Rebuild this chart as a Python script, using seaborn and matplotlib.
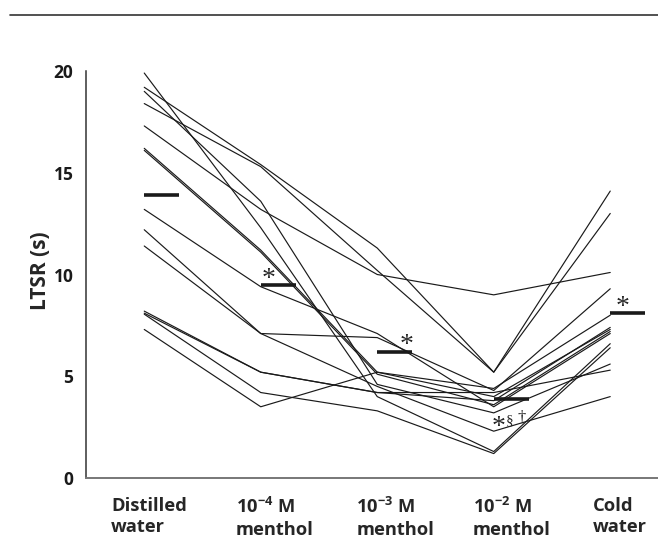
import numpy as np
import pandas as pd
import matplotlib
matplotlib.use("Agg")
import matplotlib.pyplot as plt
import matplotlib.transforms as mtransforms
from matplotlib.lines import Line2D
import seaborn as sns

# Conditions (x axis)
conditions = ["Distilled\nwater", "10$^{-4}$ M\nmenthol", "10$^{-3}$ M\nmenthol",
              "10$^{-2}$ M\nmenthol", "Cold\nwater"]

# LTSR (s) per subject, one list per condition (same subject order)
distilled = [19.9, 19.2, 19.0, 18.4, 17.3, 16.2, 16.1, 13.2, 12.2, 11.4, 8.2, 8.1, 8.05, 7.3]
menthol_4 = [12.3, 15.4, 13.6, 15.3, 13.2, 11.2, 11.1, 9.4, 7.1, 7.1, 5.2, 5.2, 4.2, 3.5]
menthol_3 = [4.0, 11.3, 4.6, 10.2, 10.0, 5.2, 5.1, 7.1, 6.9, 4.5, 4.2, 4.2, 3.3, 5.2]
menthol_2 = [1.3, 5.2, 3.2, 5.2, 9.0, 4.0, 3.6, 3.5, 4.3, 2.3, 4.2, 3.8, 1.2, 4.4]
cold = [6.6, 14.1, 5.6, 13.0, 10.1, 7.3, 7.2, 7.1, 9.3, 4.0, 5.3, 7.4, 6.4, 8.0]

# Group means (horizontal bars)
means = [13.9, 9.5, 6.2, 3.9, 8.1]

series = [distilled, menthol_4, menthol_3, menthol_2, cold]
rows = []
for pos, vals in enumerate(series):
    for subj, v in enumerate(vals):
        rows.append({"subject": subj, "pos": pos, "ltsr": v})
df = pd.DataFrame(rows)

sns.set_style("white")
font = "Open Sans"
plt.rcParams["font.family"] = [font, "DejaVu Sans"]
plt.rcParams["mathtext.fontset"] = "custom"
plt.rcParams["mathtext.rm"] = font + ":bold"
plt.rcParams["mathtext.bf"] = font + ":bold"
plt.rcParams["mathtext.it"] = font + ":bold"

fig = plt.figure(figsize=(6.58, 5.4), dpi=100)
ax = fig.add_axes([86 / 658, 1 - 478 / 540, 572 / 658, 407 / 540])

sns.lineplot(data=df, x="pos", y="ltsr", units="subject", estimator=None,
             color="#1a1a1a", lw=0.85, ax=ax, legend=False)

# mean bars
for i, m in enumerate(means):
    ax.plot([i, i + 0.3], [m, m], color="#1a1a1a", lw=2.6, solid_capstyle="butt")

# significance marks
serif = ["Liberation Serif", "DejaVu Serif"]
ax.text(1.066, 9.75, "*", fontsize=20, family=serif, ha="center", va="center")
ax.text(2.255, 6.5, "*", fontsize=20, family=serif, ha="center", va="center")
ax.text(4.109, 8.4, "*", fontsize=20, family=serif, ha="center", va="center")
ax.text(3.042, 2.5, "*", fontsize=20, family=serif, ha="center", va="center")
ax.text(3.136, 2.8, "§", fontsize=11, family=serif, ha="center", va="center")
ax.text(3.243, 2.95, "†", fontsize=12, family=serif, ha="center", va="center")

ax.set_xlim(-0.5, 4.41)
ax.set_ylim(0, 20)
ax.set_yticks([0, 5, 10, 15, 20])
ax.set_xticks(range(5))
ax.set_xticklabels([])
ax.set_yticklabels(["0", "5", "10", "15", "20"], fontsize=12.5, fontweight="bold")

# category labels, placed where they sit in the original
shifts = [-33, -25, -21, -21, -17]
for i, (lab, dx) in enumerate(zip(conditions, shifts)):
    tr = ax.get_xaxis_transform() + mtransforms.ScaledTranslation(
        dx / 100, -19 / 100, fig.dpi_scale_trans)
    ax.text(i, 0, lab, transform=tr, fontsize=13.2, fontweight="bold",
            ha="left", va="top", multialignment="left", linespacing=1.25)

ax.set_xlabel("")
ax.set_ylabel("LTSR (s)", fontsize=15, fontweight="bold")
ax.yaxis.set_label_coords(-0.062, 0.51)

ax.tick_params(axis="x", direction="in", length=5, width=1, colors="#777777")
ax.tick_params(axis="y", direction="in", length=5, width=1, colors="#333333",
               labelcolor="#1a1a1a", pad=9)

for s in ["top", "right"]:
    ax.spines[s].set_visible(False)
ax.spines["left"].set_color("#333333")
ax.spines["bottom"].set_color("#777777")
ax.spines["left"].set_linewidth(1.1)
ax.spines["bottom"].set_linewidth(1.4)

# rule at the top of the figure
fig.add_artist(Line2D([10 / 658, 1], [1 - 14.5 / 540] * 2, color="#333333", lw=1.2))

fig.savefig("out.png", dpi=100)
